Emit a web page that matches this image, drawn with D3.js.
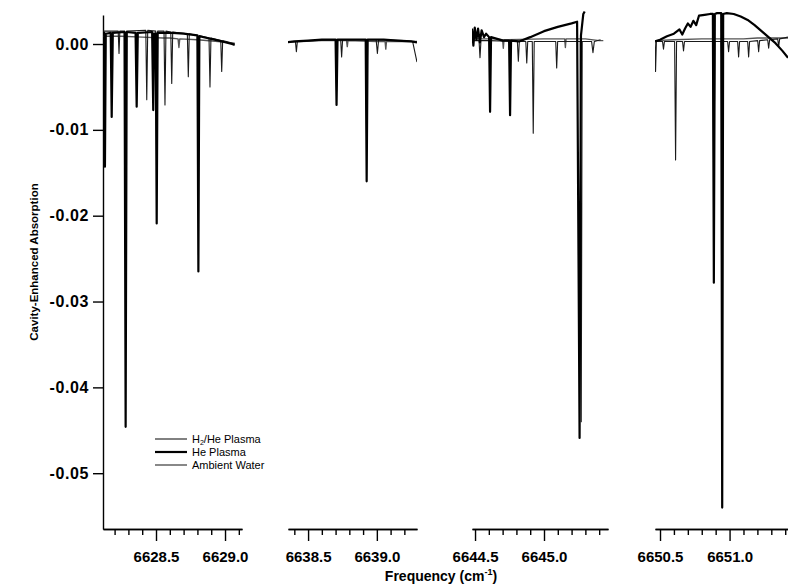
<!DOCTYPE html>
<html>
<head>
<meta charset="utf-8">
<script src="https://cdn.jsdelivr.net/npm/d3@7"></script>
<style>
	body { margin: 0; background: #fff; }
	svg { font-family: 'Liberation Sans', Arial, sans-serif; }
	.tick-label { font-weight: bold; font-size: 15px; }
	.y-label { font-weight: bold; font-size: 16px; letter-spacing: 0.6px; }
	.title { font-weight: bold; }
</style>
</head>
<body>
<div id="chart"></div>
<script>
let width = 788
let height = 584

// panel frequency windows (cm-1)
let panelDomains = [
	[6628.116, 6629.123],
	[6638.354, 6639.292],
	[6644.478, 6645.464],
	[6650.464, 6651.420],
]
let majorTicks = [
	[6628.5, 6629.0],
	[6638.5, 6639.0],
	[6644.5, 6645.0],
	[6650.5, 6651.0],
]
let yTicks = [0, -0.01, -0.02, -0.03, -0.04, -0.05]
let seriesNames = ['H2/He Plasma', 'He Plasma', 'Ambient Water']

// [frequency, absorption]
let h2hePlasma = [
	[6628.116, 0.0015], [6628.200, 0.0015], [6628.226, 0.0015], [6628.232, -0.0011], [6628.238, 0.0015],
	[6628.273, 0.0015], [6628.280, -0.0283], [6628.287, 0.0015], [6628.426, 0.0016], [6628.433, -0.0065],
	[6628.440, 0.0016], [6628.498, 0.0015], [6628.505, -0.0159], [6628.512, 0.0015], [6628.558, 0.0015],
	[6628.565, -0.0071], [6628.572, 0.0015], [6628.607, 0.0014], [6628.614, -0.0046], [6628.621, 0.0014],
	[6628.727, 0.0012], [6628.734, -0.0038], [6628.741, 0.0012], [6628.800, 0.0010], [6628.807, -0.0150],
	[6628.814, 0.0010], [6628.884, 0.0007], [6628.891, -0.0050], [6628.898, 0.0007], [6628.969, 0.0004],
	[6628.976, -0.0032], [6628.983, 0.0004], [6629.030, 0.0002], [6629.070, 0.0000],

	[6638.340, 0.0003], [6638.408, 0.0003], [6638.415, -0.0009], [6638.422, 0.0003], [6638.500, 0.0004],
	[6638.700, 0.0005], [6638.707, -0.0055], [6638.714, 0.0005], [6638.737, 0.0005], [6638.744, -0.0015],
	[6638.751, 0.0005], [6638.919, 0.0005], [6638.926, -0.0120], [6638.933, 0.0005], [6638.995, 0.0005],
	[6639.004, -0.0011], [6639.013, 0.0005], [6639.200, 0.0004], [6639.260, 0.0003], [6639.280, -0.0012],
	[6639.292, -0.0021],

	[6644.478, 0.0004], [6644.529, 0.0004], [6644.536, -0.0016], [6644.543, 0.0004], [6644.600, 0.0004],
	[6644.807, 0.0003], [6644.814, -0.0020], [6644.821, 0.0003], [6644.868, 0.0003], [6644.875, -0.0022],
	[6644.882, 0.0003], [6644.915, 0.0003], [6644.922, -0.0104], [6644.929, 0.0003], [6645.085, 0.0003],
	[6645.092, -0.0028], [6645.099, 0.0003], [6645.263, 0.0003], [6645.270, -0.0440], [6645.277, 0.0003],
	[6645.345, 0.0003], [6645.355, -0.0010], [6645.365, 0.0003], [6645.410, 0.0005],

	[6650.464, 0.0003], [6650.468, -0.0032], [6650.474, 0.0003], [6650.518, 0.0003], [6650.525, -0.0006],
	[6650.532, 0.0003], [6650.605, 0.0003], [6650.612, -0.0135], [6650.619, 0.0003], [6650.662, 0.0003],
	[6650.669, -0.0008], [6650.676, 0.0003], [6650.880, 0.0003], [6650.887, -0.0200], [6650.894, 0.0003],
	[6650.940, 0.0003], [6650.947, -0.0057], [6650.954, 0.0003], [6650.986, 0.0003], [6650.993, -0.0009],
	[6651.000, 0.0003], [6651.058, 0.0003], [6651.065, -0.0015], [6651.072, 0.0003], [6651.130, 0.0003],
	[6651.137, -0.0015], [6651.144, 0.0003], [6651.202, 0.0004], [6651.209, -0.0009], [6651.216, 0.0004],
	[6651.274, 0.0005], [6651.281, -0.0005], [6651.288, 0.0005], [6651.346, 0.0006], [6651.353, -0.0003],
	[6651.360, 0.0006], [6651.420, 0.0008],
]

let hePlasma = [
	[6628.116, 0.0013], [6628.125, 0.0013], [6628.130, -0.0143], [6628.136, 0.0012], [6628.172, 0.0013],
	[6628.179, -0.0085], [6628.187, 0.0013], [6628.272, 0.0014], [6628.280, -0.0446], [6628.288, 0.0014],
	[6628.352, 0.0013], [6628.360, -0.0073], [6628.368, 0.0013], [6628.472, 0.0014], [6628.480, -0.0077],
	[6628.486, 0.0012], [6628.498, 0.0012], [6628.505, -0.0209], [6628.512, 0.0013], [6628.620, 0.0013],
	[6628.700, 0.0012], [6628.800, 0.0010], [6628.807, -0.0265], [6628.814, 0.0009], [6628.900, 0.0006],
	[6628.980, 0.0003], [6629.050, 0.0000], [6629.070, -0.0001],

	[6638.340, 0.0002], [6638.400, 0.0003], [6638.500, 0.0004], [6638.600, 0.0005], [6638.700, 0.0005],
	[6638.707, -0.0071], [6638.714, 0.0005], [6638.800, 0.0005], [6638.919, 0.0005], [6638.926, -0.0160],
	[6638.933, 0.0005], [6639.050, 0.0005], [6639.150, 0.0004], [6639.250, 0.0003], [6639.292, 0.0002],

	[6644.478, 0.0018], [6644.488, -0.0002], [6644.498, 0.0019], [6644.510, 0.0005], [6644.522, 0.0018],
	[6644.535, 0.0002], [6644.548, 0.0016], [6644.565, 0.0008], [6644.580, 0.0012], [6644.602, 0.0008],
	[6644.609, -0.0079], [6644.616, 0.0008], [6644.660, 0.0006], [6644.700, 0.0004], [6644.747, 0.0004],
	[6644.754, -0.0083], [6644.761, 0.0004], [6644.820, 0.0003], [6644.900, 0.0008], [6645.000, 0.0015],
	[6645.100, 0.0020], [6645.200, 0.0024], [6645.240, 0.0026], [6645.258, -0.0459], [6645.268, 0.0010],
	[6645.285, 0.0035], [6645.295, 0.0038],

	[6650.464, 0.0003], [6650.500, 0.0005], [6650.550, 0.0009], [6650.600, 0.0012], [6650.640, 0.0017],
	[6650.660, 0.0011], [6650.680, 0.0018], [6650.700, 0.0024], [6650.720, 0.0020], [6650.740, 0.0027],
	[6650.760, 0.0022], [6650.780, 0.0033], [6650.820, 0.0034], [6650.860, 0.0035], [6650.880, 0.0035],
	[6650.887, -0.0278], [6650.894, 0.0035], [6650.910, 0.0036], [6650.940, 0.0036], [6650.947, -0.0540],
	[6650.954, 0.0035], [6650.980, 0.0036], [6651.030, 0.0035], [6651.080, 0.0032], [6651.130, 0.0028],
	[6651.180, 0.0022], [6651.230, 0.0015], [6651.280, 0.0008], [6651.330, 0.0001], [6651.380, -0.0008],
	[6651.420, -0.0016],
]

let ambientWater = [
	[6628.116, 0.0009], [6628.250, 0.0009], [6628.400, 0.0008], [6628.550, 0.0007], [6628.600, 0.0007],
	[6628.660, 0.0006], [6628.666, -0.0004], [6628.672, 0.0006], [6628.800, 0.0005], [6628.950, 0.0003],
	[6629.000, 0.0002], [6629.070, 0.0001],

	[6638.340, 0.0002], [6638.450, 0.0003], [6638.600, 0.0004], [6638.780, 0.0004], [6638.785, -0.0003],
	[6638.790, 0.0004], [6639.000, 0.0003], [6639.060, 0.0003], [6639.065, -0.0006], [6639.070, 0.0003],
	[6639.292, 0.0003],

	[6644.478, 0.0006], [6644.650, 0.0006], [6644.700, 0.0005], [6644.705, -0.0005], [6644.710, 0.0005],
	[6645.000, 0.0006], [6645.150, 0.0006], [6645.155, -0.0004], [6645.160, 0.0006], [6645.300, 0.0006],
	[6645.400, 0.0004], [6645.430, 0.0004],

	[6650.464, 0.0004], [6650.600, 0.0005], [6650.800, 0.0006], [6651.000, 0.0006], [6651.100, 0.0006],
	[6651.200, 0.0007], [6651.300, 0.0007], [6651.420, 0.0007],
]

// pixel spans of the four broken x axes
let panelRanges = [[103, 242], [288, 417], [472, 608], [655, 788]]

let axisY = 529

let yScale = d3.scaleLinear()
	.domain([-0.0565, 0.00338])
	.range([axisY, 15])

let series = [
	{ name : seriesNames[2], data : ambientWater, color : '#555', width : 1.4 },
	{ name : seriesNames[0], data : h2hePlasma, color : '#1a1a1a', width : 1.1 },
	{ name : seriesNames[1], data : hePlasma, color : '#000', width : 2.2 },
]

let svg = d3.select('#chart').append('svg')
	.attr('width', width)
	.attr('height', height)

svg.append('rect')
	.attr('width', width)
	.attr('height', height)
	.attr('fill', '#fff')

// y axis
let yAxis = d3.axisLeft(yScale)
	.tickValues(yTicks)
	.tickFormat((d) => d.toFixed(2))
	.tickSize(10)
	.tickSizeOuter(0)
	.tickPadding(4)

let yG = svg.append('g')
	.attr('transform', 'translate(103,0)')
	.call(yAxis)

yG.selectAll('text').attr('class', 'y-label').attr('fill', '#000')
yG.selectAll('line, path').attr('stroke', '#000').attr('stroke-width', 1.4)

svg.append('text')
	.attr('class', 'title')
	.attr('font-size', 11.5)
	.attr('text-anchor', 'middle')
	.attr('transform', 'translate(38,262) rotate(-90)')
	.text('Cavity-Enhanced Absorption')

let defs = svg.append('defs')

panelDomains.forEach((dom, i) => {
	let range = panelRanges[i]
	let xScale = d3.scaleLinear()
		.domain(dom)
		.range(range)

	let minor = d3.range(Math.ceil(dom[0] * 10), Math.floor(dom[1] * 10) + 1)
		.map((k) => k / 10)
		.filter((v) => majorTicks[i].indexOf(v) < 0)

	let minorAxis = d3.axisBottom(xScale)
		.tickValues(minor)
		.tickSize(6)
		.tickSizeOuter(0)
		.tickFormat('')

	let majorAxis = d3.axisBottom(xScale)
		.tickValues(majorTicks[i])
		.tickSize(12)
		.tickSizeOuter(0)
		.tickPadding(10)
		.tickFormat(d3.format('.1f'))

	let g = svg.append('g').attr('transform', `translate(0,${axisY})`)
	g.append('g').call(minorAxis)
	g.append('g').call(majorAxis)
	g.selectAll('text').attr('class', 'tick-label').attr('fill', '#000')
	g.selectAll('line, path').attr('stroke', '#000').attr('stroke-width', 1.4)

	defs.append('clipPath')
		.attr('id', 'clip' + i)
		.append('rect')
		.attr('x', range[0])
		.attr('y', 0)
		.attr('width', range[1] - range[0])
		.attr('height', height)

	let line = d3.line()
		.x((d) => xScale(d[0]))
		.y((d) => yScale(d[1]))

	let marks = svg.append('g').attr('clip-path', `url(#clip${i})`)

	series.forEach((s) => {
		let pts = s.data.filter((d) => d[0] >= dom[0] - 0.1 && d[0] <= dom[1] + 0.1)
		marks.append('path')
			.datum(pts)
			.attr('d', line)
			.attr('fill', 'none')
			.attr('stroke', s.color)
			.attr('stroke-width', s.width)
			.attr('stroke-linejoin', 'round')
	})
})

// x title
let xTitle = svg.append('text')
	.attr('class', 'title')
	.attr('font-size', 14)
	.attr('text-anchor', 'middle')
	.attr('x', 441)
	.attr('y', 581)

xTitle.append('tspan').text('Frequency (cm')
xTitle.append('tspan').attr('font-size', 9).attr('dy', -6).text('-1')
xTitle.append('tspan').attr('dy', 6).text(')')

// legend
let legend = svg.append('g')
	.attr('transform', 'translate(155,443)')

let legendOrder = [series[1], series[2], series[0]]

legendOrder.forEach((s, i) => {
	let row = legend.append('g').attr('transform', `translate(0,${i * 13})`)
	row.append('line')
		.attr('x1', 0)
		.attr('x2', 32)
		.attr('y1', -4)
		.attr('y2', -4)
		.attr('stroke', s.color)
		.attr('stroke-width', s.width)
	let t = row.append('text')
		.attr('x', 37)
		.attr('font-size', 11)
	if (s.name === 'H2/He Plasma') {
		t.append('tspan').text('H')
		t.append('tspan').attr('font-size', 7).attr('dy', 1.5).text('2')
		t.append('tspan').attr('dy', -1.5).text('/He Plasma')
	} else {
		t.text(s.name)
	}
})
</script>
</body>
</html>
